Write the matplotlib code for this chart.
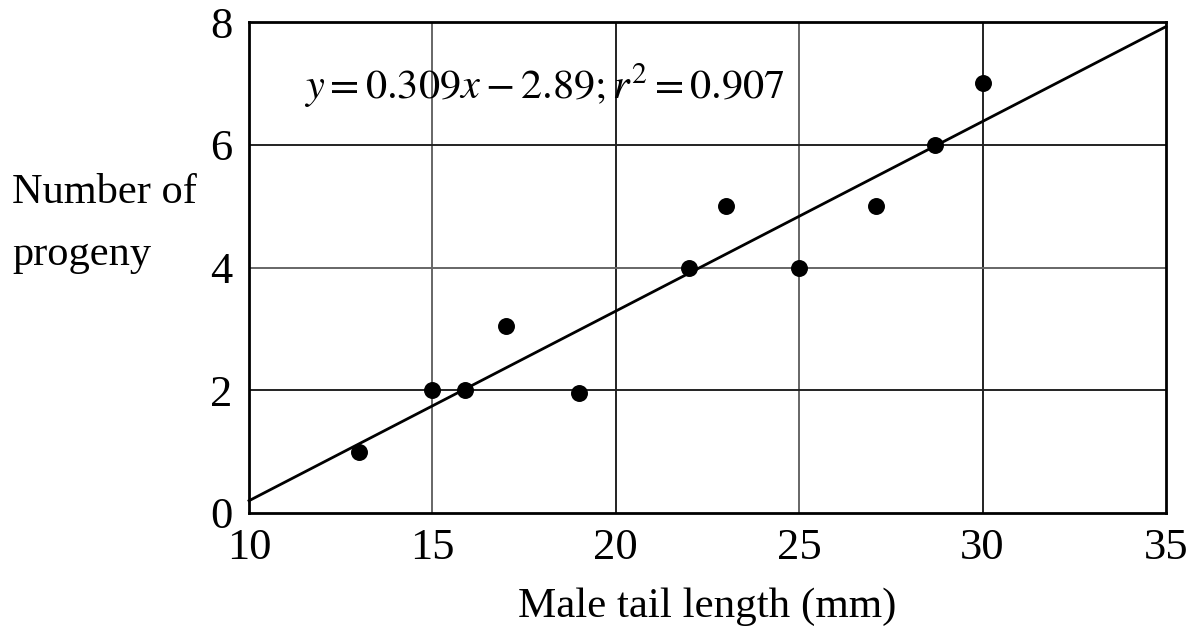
import numpy as np
import matplotlib.pyplot as plt

# data
tail_length = [13, 15, 15.9, 17, 19, 22, 23, 25, 27.1, 28.7, 30]
progeny = [1, 2, 2, 3.05, 1.95, 4, 5, 4, 5, 6, 7]
slope, intercept = 0.309, -2.89
x_ticks = [10, 15, 20, 25, 30, 35]
y_ticks = [0, 2, 4, 6, 8]

plt.rcParams['font.family'] = ['Liberation Serif', 'DejaVu Serif']
plt.rcParams['mathtext.fontset'] = 'stix'

fig = plt.figure(figsize=(11.95, 6.31), dpi=100)
ax = fig.add_axes([249 / 1195, 1 - 513 / 631, (1166 - 249) / 1195, (513 - 22) / 631])

ax.set_xlim(10, 35)
ax.set_ylim(0, 8)

# grid lines (some printed darker than others in the original)
for gx in x_ticks[1:-1]:
    c = '#222222' if gx in (20, 30) else '#666666'
    ax.axvline(gx, color=c, lw=1.4, zorder=1)
for gy in y_ticks[1:-1]:
    c = '#222222' if gy in (2, 6) else '#666666'
    ax.axhline(gy, color=c, lw=1.4, zorder=1)

# fitted line
xx = np.array([10, 35])
ax.plot(xx, slope * xx + intercept, color='black', lw=2.0, zorder=2, clip_on=False)

ax.scatter(tail_length, progeny, s=125, color='black', zorder=3)

ax.set_xticks(x_ticks)
ax.set_yticks(y_ticks)
ax.tick_params(length=0, labelsize=32)
ax.tick_params(axis='x', pad=11)
ax.tick_params(axis='y', pad=12)
for s in ax.spines.values():
    s.set_linewidth(2.0)

ax.text(11.5, 6.97, r'$y = 0.309x - 2.89; r^2 = 0.907$', fontsize=30.5, va='center', ha='left')

ax.set_xlabel('Male tail length (mm)', fontsize=31, labelpad=14)
fig.text(12 / 1195, 1 - 193 / 631, 'Number of', fontsize=30.5, va='center', ha='left')
fig.text(12 / 1195, 1 - 255 / 631, 'progeny', fontsize=30.5, va='center', ha='left')

fig.savefig('out.png', dpi=100)
